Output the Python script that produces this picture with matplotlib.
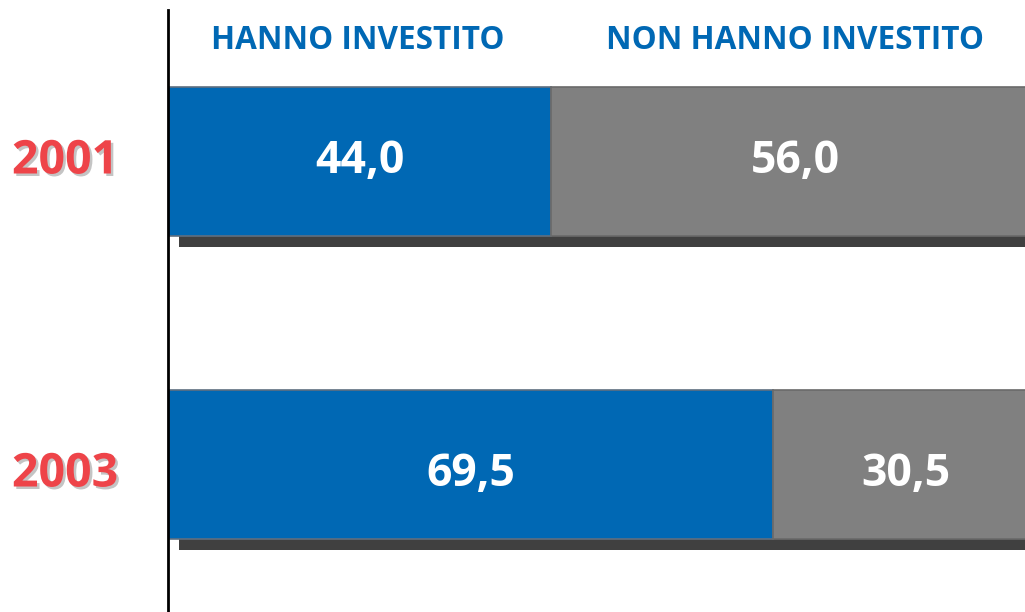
import matplotlib
matplotlib.use("Agg")
import matplotlib.pyplot as plt
import matplotlib.patheffects as pe

# Data
years = ["2001", "2003"]
invested = [44.0, 69.5]
not_invested = [56.0, 30.5]
headers = ["HANNO INVESTITO", "NON HANNO INVESTITO"]

blue = "#0068b4"
grey = "#808080"
shadow = "#404040"
red = "#ee4449"

plt.rcParams['font.family'] = ['Open Sans', 'DejaVu Sans']

fig = plt.figure(figsize=(10.25, 6.12), dpi=100)
ax = fig.add_axes([168 / 1025, 0, 857 / 1025, 1])

# pixel scales of the layout (100% = 871 px, one row = 303 px)
px_x = 100 / 871
px_y = 1 / 303

ypos = list(range(len(years)))
bar_h = 149 * px_y
dx = 11 * px_x
dy = 11 * px_y

# drop shadows behind bars
ax.barh([y + dy for y in ypos], [100] * len(years), left=dx, height=bar_h,
        color=shadow, zorder=1)
ax.barh(ypos, invested, height=bar_h, color=blue, edgecolor="#5f6f80",
        linewidth=1.2, zorder=2)
ax.barh(ypos, not_invested, left=invested, height=bar_h, color=grey,
        edgecolor="#6a6a6a", linewidth=1.2, zorder=2)

# baseline of the labels below row centre, in px
label_dy = [12, 22]

for i, y in enumerate(ypos):
    yb = y + label_dy[i] * px_y
    ax.text(invested[i] / 2, yb, f"{invested[i]:.1f}".replace(".", ","),
            ha="center", va="baseline", color="white", fontsize=32,
            fontweight="bold", zorder=3)
    ax.text(invested[i] + not_invested[i] / 2, yb,
            f"{not_invested[i]:.1f}".replace(".", ","),
            ha="center", va="baseline", color="white", fontsize=32,
            fontweight="bold", zorder=3)
    ax.text(-103 * px_x, yb, years[i], ha="center", va="baseline", color=red,
            fontsize=33.5, fontweight="bold", clip_on=False,
            path_effects=[pe.SimplePatchShadow(offset=(1.8, -1.8),
                                               shadow_rgbFace="#c4c4c4", alpha=1),
                          pe.Normal()])

# column headers
hy = (49 - 161.5) * px_y
ax.text(invested[0] / 2 - 2 * px_x, hy, headers[0], ha="center", va="baseline",
        color=blue, fontsize=22.7, fontweight="bold")
ax.text(invested[0] + not_invested[0] / 2, hy, headers[1], ha="center",
        va="baseline", color=blue, fontsize=22.7, fontweight="bold")

ax.set_xlim(0, 857 * px_x)
ax.set_ylim(1 + (612 - 464.5) * px_y, -161.5 * px_y)
for s in ["top", "right", "bottom"]:
    ax.spines[s].set_visible(False)
ax.spines["left"].set_linewidth(2)
ax.spines["left"].set_bounds(-0.5, 1 + (612 - 464.5) * px_y)
ax.set_xticks([])
ax.set_yticks([])

fig.savefig("out.png", dpi=100)
